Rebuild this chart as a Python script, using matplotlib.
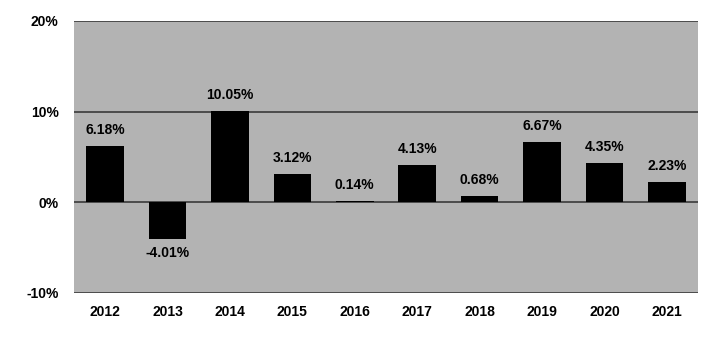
import matplotlib.pyplot as plt
import numpy as np

plt.rcParams['font.family'] = ['Liberation Sans', 'DejaVu Sans']
plt.rcParams['font.weight'] = 'bold'

years = ['2012', '2013', '2014', '2015', '2016', '2017', '2018', '2019', '2020', '2021']
returns = [6.18, -4.01, 10.05, 3.12, 0.14, 4.13, 0.68, 6.67, 4.35, 2.23]
yticks = [-10, 0, 10, 20]

fig = plt.figure(figsize=(7.2, 3.38), dpi=100)
ax = fig.add_axes([74 / 720, 1 - 293 / 338, 624 / 720, 272 / 338])
ax.set_facecolor('#b3b3b3')

pos = np.arange(len(years))
ax.bar(pos, returns, width=0.6, color='black', zorder=3)

# horizontal grid at each tick
for y in yticks:
    ax.axhline(y, color='#3a3a3a', linewidth=1.2, zorder=2)

for x, v in zip(pos, returns):
    if v >= 0:
        ax.text(x, v + 1.0, f'{v:.2f}%', ha='center', va='bottom', fontsize=10, fontweight='bold')
    else:
        ax.text(x, v - 0.8, f'{v:.2f}%', ha='center', va='top', fontsize=10, fontweight='bold')

ax.set_xlim(-0.5, len(years) - 0.5)
ax.set_ylim(-10, 20)
ax.set_yticks(yticks)
ax.set_yticklabels([f'{t}%' for t in yticks], fontsize=10, fontweight='bold')
ax.set_xticks(pos)
ax.set_xticklabels(years, fontsize=10, fontweight='bold')
ax.tick_params(length=0, pad=9)
ax.tick_params(axis='y', pad=11)
for s in ax.spines.values():
    s.set_visible(False)

fig.savefig('out.png', dpi=100)
